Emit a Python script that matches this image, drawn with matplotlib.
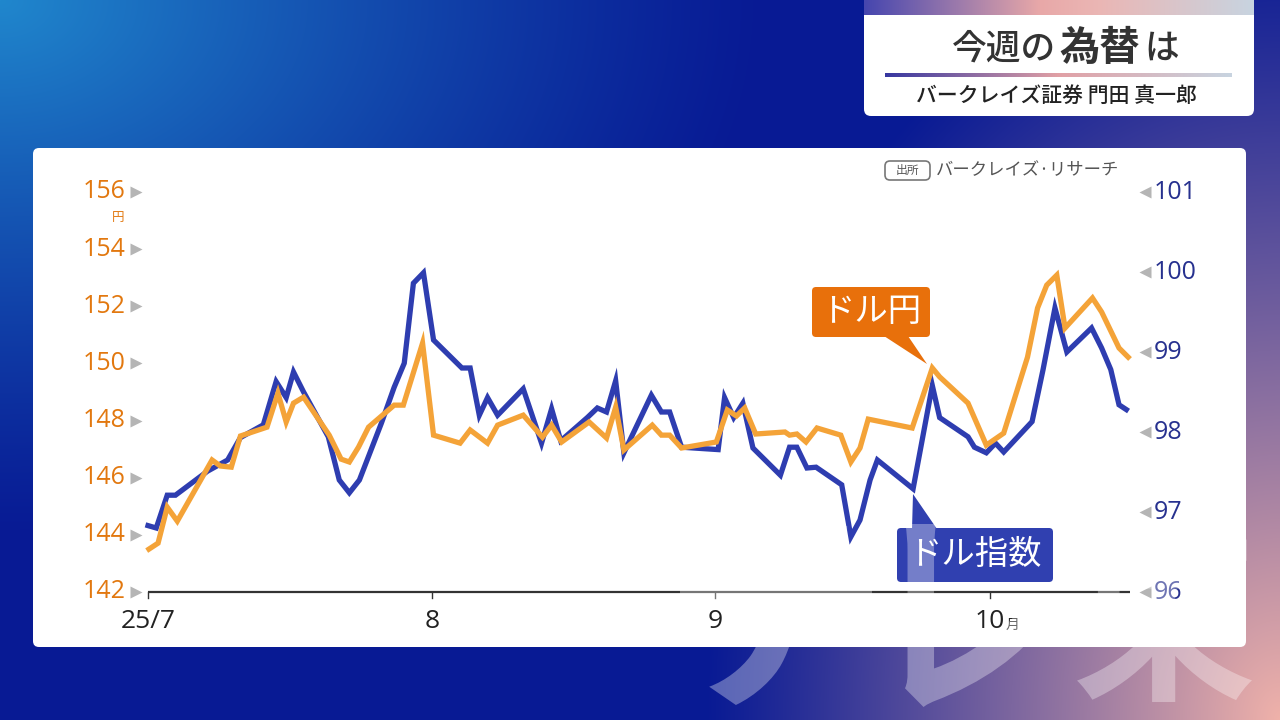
import numpy as np
import matplotlib.pyplot as plt
from matplotlib.patches import FancyBboxPatch, Polygon, PathPatch
from matplotlib.textpath import TextPath
from matplotlib.font_manager import FontProperties
from matplotlib.transforms import Affine2D

plt.rcParams['font.family'] = ['Noto Sans CJK JP', 'DejaVu Sans']

# ドル円 (左軸, 円) : 7/1からの日数と値
jpy_day = [0.1, 1.1, 2.1, 3.2, 7.0, 7.9, 9.1, 10.1, 13.0, 14.2, 15.1, 15.9, 17.0,
           19.8, 21.1, 22.0, 23.0, 24.1, 26.9, 27.9, 30.0, 31.2, 34.1, 35.2, 37.1,
           38.2, 41.0, 43.1, 44.1, 45.2, 48.2, 50.1, 51.1, 52.0, 55.1, 56.1, 57.0,
           58.3, 62.1, 63.3, 64.3, 65.2, 66.4, 69.6, 70.1, 70.9, 71.9, 73.1, 75.7,
           76.8, 77.8, 78.7, 83.5, 85.7, 86.5, 89.6, 91.6, 93.5, 96.1, 97.2, 98.2,
           99.3, 100.2, 103.2, 104.2, 106.1, 107.1]
jpy_val = [143.50, 143.71, 144.97, 144.48, 146.62, 146.41, 146.37, 147.46, 147.77,
           148.96, 147.95, 148.61, 148.82, 147.49, 146.65, 146.55, 147.07, 147.77,
           148.54, 148.54, 150.71, 147.49, 147.21, 147.67, 147.21, 147.84, 148.19,
           147.42, 147.84, 147.25, 147.95, 147.39, 148.47, 146.97, 147.84, 147.49,
           147.49, 147.04, 147.25, 148.37, 148.16, 148.44, 147.53, 147.60, 147.49,
           147.53, 147.25, 147.74, 147.49, 146.55, 147.04, 148.05, 147.74, 149.84,
           149.53, 148.61, 147.14, 147.56, 150.22, 151.94, 152.74, 153.09, 151.24,
           152.29, 151.80, 150.54, 150.22]

# ドル指数 (右軸)
dxy_day = [0.0, 0.9, 2.1, 3.0, 6.5, 8.7, 10.1, 12.6, 14.0, 15.1, 15.9, 17.0, 19.7,
           20.9, 22.0, 23.1, 25.5, 26.9, 28.0, 29.0, 30.1, 31.2, 34.3, 35.2, 36.2,
           37.1, 38.2, 41.0, 43.0, 44.1, 45.1, 48.0, 49.1, 50.1, 51.1, 52.0, 55.0,
           56.1, 57.0, 58.3, 62.3, 63.0, 64.0, 65.0, 66.1, 69.1, 70.1, 70.9, 72.0,
           73.0, 75.8, 76.8, 77.8, 78.9, 79.7, 83.6, 85.7, 86.5, 89.6, 90.3, 91.6,
           92.6, 93.5, 96.6, 97.8, 99.1, 100.4, 103.1, 104.2, 105.2, 106.1, 106.9]
dxy_val = [96.83, 96.80, 97.21, 97.21, 97.51, 97.65, 97.93, 98.09, 98.63, 98.43,
           98.75, 98.50, 97.94, 97.40, 97.24, 97.40, 98.11, 98.56, 98.86, 99.86,
           99.99, 99.15, 98.80, 98.80, 98.21, 98.43, 98.21, 98.54, 97.86, 98.29,
           97.89, 98.18, 98.30, 98.25, 98.64, 97.74, 98.46, 98.25, 98.25, 97.81,
           97.78, 98.43, 98.18, 98.36, 97.80, 97.46, 97.81, 97.81, 97.55, 97.56,
           97.34, 96.69, 96.90, 97.40, 97.65, 97.29, 98.58, 98.18, 97.94, 97.81,
           97.74, 97.86, 97.75, 98.13, 98.78, 99.55, 99.00, 99.30, 99.05, 98.78,
           98.34, 98.28]

jpy_ticks = [142, 144, 146, 148, 150, 152, 154, 156]
dxy_ticks = [96, 97, 98, 99, 100, 101]
month_days = [0, 31, 62, 92]
month_labels = ['25/7', '8', '9', '10']

ORANGE = '#f4a338'
ORANGE_TXT = '#e2780f'
BLUE = '#2e3db0'
NAVY = '#27318f'

fig = plt.figure(figsize=(12.8, 7.2), dpi=100)

# 背景グラデーション
bg = fig.add_axes([0, 0, 1, 1])
bg.axis('off')
H, W = 720, 1280
yy, xx = np.mgrid[0:H, 0:W]
xn, yn = xx / W, yy / H
img = np.ones((H, W, 3)) * np.array([8, 26, 148]) / 255
w1 = np.clip(1 - np.sqrt((xn / 0.6) ** 2 + (yn / 0.75) ** 2), 0, 1) ** 1.2
img = img * (1 - w1[..., None]) + np.array([32, 135, 205]) / 255 * w1[..., None]
w2 = np.clip(1 - np.sqrt(((1 - xn) / 0.45) ** 2 + ((1 - yn) / 1.1) ** 2), 0, 1) ** 1.1
img = img * (1 - w2[..., None]) + np.array([240, 178, 170]) / 255 * w2[..., None]
bg.imshow(img, extent=[0, W, H, 0], aspect='auto', zorder=0)

# パネル
bg.add_patch(FancyBboxPatch((33, 148), 1213, 499, boxstyle='round,pad=0,rounding_size=6',
                            fc='white', ec='none', zorder=1))

# タイトルボックス
bg.add_patch(FancyBboxPatch((864, -10), 390, 126, boxstyle='round,pad=0,rounding_size=7',
                            fc='white', ec='none', zorder=1))
band = np.linspace(0, 1, 200)
band_cols = np.array([[70, 70, 175], [232, 168, 168], [235, 182, 180], [200, 212, 224]]) / 255
band_img = np.stack([np.interp(band, [0, 0.45, 0.6, 1], band_cols[:, c]) for c in range(3)],
                    axis=-1)[None, :, :]
bg.imshow(band_img, extent=[864, 1254, 15, 0], aspect='auto', zorder=2)
line_cols = np.array([[55, 55, 160], [225, 160, 165], [200, 212, 224]]) / 255
line_img = np.stack([np.interp(band, [0, 0.5, 1], line_cols[:, c]) for c in range(3)],
                    axis=-1)[None, :, :]
bg.imshow(line_img, extent=[885, 1232, 77, 73.5], aspect='auto', zorder=2)
bg.set_xlim(0, W)
bg.set_ylim(H, 0)

bg.text(1056, 49, '今週の', fontsize=25, color='#333333', ha='right', va='center',
        fontweight='medium', zorder=3)
bg.text(1100, 48, '為替', fontsize=29, color='#333333', ha='center', va='center',
        fontweight='bold', zorder=3)
bg.text(1144, 49, 'は', fontsize=25, color='#333333', ha='left', va='center',
        fontweight='medium', zorder=3)
bg.text(1056, 96, 'バークレイズ証券 門田 真一郎', fontsize=15, color='#222222',
        ha='center', va='center', fontweight='medium', zorder=3)

# 出所
bg.add_patch(FancyBboxPatch((885, 161), 45, 19, boxstyle='round,pad=0,rounding_size=5',
                            fc='none', ec='#777777', lw=1.2, zorder=3))
bg.text(907.5, 170.5, '出所', fontsize=8.5, color='#555555', ha='center', va='center', zorder=3)
bg.text(936, 170, 'バークレイズ·リサーチ', fontsize=12.5, color='#555555', ha='left',
        va='center', zorder=3)

# 単位
bg.text(118, 217, '円', fontsize=9, color=ORANGE_TXT, ha='center', va='center', zorder=3)

# チャート
rect = [148 / W, 1 - 592 / H, 982 / W, 400 / H]
XMAX = 107.3
ax_d = fig.add_axes(rect)
ax_d.set_xlim(0, XMAX)
ax_d.set_ylim(96, 101)
ax_d.axis('off')
ax_d.plot(dxy_day, dxy_val, color=BLUE, lw=3.8, solid_joinstyle='miter', clip_on=False)

ax_j = fig.add_axes(rect)
ax_j.set_xlim(0, XMAX)
ax_j.set_ylim(142, 156)
ax_j.axis('off')
ax_j.plot(jpy_day, jpy_val, color=ORANGE, lw=3.8, solid_joinstyle='miter', clip_on=False)

# 横軸
ax_j.plot([0, XMAX], [142, 142], color='#333333', lw=1.6, clip_on=False, solid_capstyle='butt')
for d in month_days:
    ax_j.plot([d, d], [142, 141.78], color='#333333', lw=1.0, clip_on=False)
xt = ax_j.get_xaxis_transform()
for d, lab in zip(month_days, month_labels):
    ax_j.text(d, -0.075, lab, transform=xt, fontsize=19, color='#222222',
              ha='center', va='center', family=['Open Sans', 'DejaVu Sans'])
ax_j.text(month_days[-1] + 1.7, -0.082, '月', transform=xt, fontsize=10, color='#222222',
          ha='left', va='center')

# 左軸ラベル
yt = ax_j.get_yaxis_transform()
for v in jpy_ticks:
    ax_j.text(-0.023, v, str(v), transform=yt, fontsize=18, color=ORANGE_TXT,
              ha='right', va='center', family=['Open Sans', 'DejaVu Sans'])
    ax_j.plot([-0.0125], [v], transform=yt, marker='>', ms=9, color='#b5b5b5',
              mec='none', clip_on=False)

# 右軸ラベル
yt2 = ax_d.get_yaxis_transform()
for v in dxy_ticks:
    ax_d.text(1.0245, v, str(v), transform=yt2, fontsize=18, color=NAVY,
              ha='left', va='center', family=['Open Sans', 'DejaVu Sans'])
    ax_d.plot([1.0155], [v], transform=yt2, marker='<', ms=9, color='#b5b5b5',
              mec='none', clip_on=False)

# 吹き出しラベル
ov = fig.add_axes([0, 0, 1, 1])
ov.set_xlim(0, W)
ov.set_ylim(H, 0)
ov.axis('off')
ov.add_patch(FancyBboxPatch((812, 287), 118, 50, boxstyle='round,pad=0,rounding_size=4',
                            fc='#e8700b', ec='none'))
ov.add_patch(Polygon([(884, 336), (908, 336), (927, 364)], closed=True, fc='#e8700b', ec='none'))
ov.text(871, 311, 'ドル円', fontsize=24, color='white', ha='center', va='center')

ov.add_patch(FancyBboxPatch((897, 528), 156, 54, boxstyle='round,pad=0,rounding_size=4',
                            fc='#3040b0', ec='none'))
ov.add_patch(Polygon([(912, 529), (937, 529), (913, 494)], closed=True, fc='#3040b0', ec='none'))
ov.text(975, 554, 'ドル指数', fontsize=24, color='white', ha='center', va='center')

# 透かし (グリフのインク範囲を目標の箱に合わせる)
fp = FontProperties(family='Noto Sans CJK JP', weight='bold')
for ch, (x0, x1, y0, y1) in zip(['テ', 'レ', '東'],
                                [(680, 872, 526, 705), (905, 1048, 524, 707), (1077, 1252, 524, 702)]):
    tp = TextPath((0, 0), ch, size=100, prop=fp)
    ext = tp.get_extents()
    sx = (x1 - x0) / ext.width
    sy = (y1 - y0) / ext.height
    tr = Affine2D().translate(-ext.x0, -ext.y1).scale(sx, -sy).translate(x0, y0)
    ov.add_patch(PathPatch(tr.transform_path(tp), fc='white', ec='none', alpha=0.33))

fig.savefig('out.png', dpi=100)
